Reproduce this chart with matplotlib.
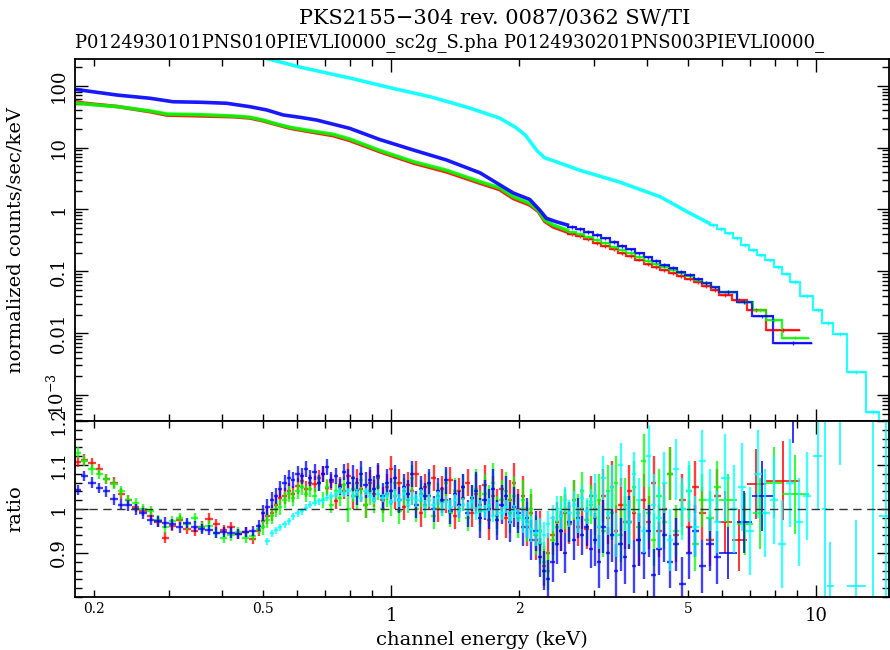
import numpy as np
import matplotlib.pyplot as plt
from matplotlib.ticker import FixedLocator, FuncFormatter, LogLocator, MultipleLocator, NullFormatter

plt.rcParams['font.family'] = ['DejaVu Serif']

# ---- top panel: counts spectra (keV, counts/s/keV) ----
red_line_e = [0.18, 0.19, 0.227, 0.271, 0.297, 0.355, 0.425, 0.466, 0.5, 0.538, 0.579, 0.645, 0.73, 0.8,
              0.94, 1.13, 1.35, 1.62, 1.8, 1.94, 2.12, 2.22, 2.3, 2.41, 2.6]
red_line_v = [56, 52, 46, 38, 33.5, 32.5, 31.5, 30, 27, 23.5, 20.5, 18, 15.6, 13,
              8.6, 5.6, 4.05, 2.65, 2.1, 1.5, 1.18, 0.93, 0.64, 0.52, 0.43]
green_line_e = red_line_e
green_line_v = [53, 50.6, 45.9, 39, 34.8, 34, 32.3, 30.8, 27.8, 24, 21.2, 18.7, 16.4, 13.7,
                9.0, 5.9, 4.3, 2.8, 2.24, 1.6, 1.25, 0.97, 0.67, 0.557, 0.46]
blue_line_e = [0.18, 0.227, 0.271, 0.307, 0.355, 0.41, 0.466, 0.51, 0.558, 0.611, 0.669, 0.8,
               0.94, 1.13, 1.35, 1.62, 1.94, 2.12, 2.24, 2.32, 2.45, 2.6]
blue_line_v = [87.6, 70.5, 62.6, 55, 54, 52, 45.7, 40.5, 33.6, 30.8, 27.8, 20.4,
               13.5, 9.1, 6.3, 3.9, 1.84, 1.45, 0.97, 0.72, 0.63, 0.56]
cyan_line_e = [0.5, 0.61, 0.8, 1.0, 1.24, 1.53, 1.8, 1.96, 2.07, 2.2, 2.3, 2.43, 2.78, 3.46, 4.3, 5.0, 5.6]
cyan_line_v = [285, 200, 133, 92, 66, 43.6, 30, 21.4, 15.9, 9.1, 6.8, 6.0, 4.3, 2.75, 1.6, 0.9, 0.6]

# binned high-energy part (bin edges and values)
step_edges = [2.6, 2.72, 2.85, 2.98, 3.12, 3.27, 3.42, 3.58, 3.75, 3.93, 4.11, 4.3, 4.5, 4.71,
              4.93, 5.16, 5.4, 5.65, 5.92]
red_edges = step_edges + [6.33, 6.87, 7.63, 9.17]
red_step_v = [0.40, 0.37, 0.33, 0.29, 0.26, 0.228, 0.2, 0.176, 0.155, 0.13, 0.118, 0.105, 0.094,
              0.084, 0.075, 0.066, 0.058, 0.05, 0.042, 0.034, 0.0236, 0.0112]
green_edges = step_edges + [6.51, 7.11, 7.63, 8.30, 9.63]
green_step_v = [0.43, 0.4, 0.36, 0.32, 0.285, 0.25, 0.22, 0.195, 0.17, 0.148, 0.132, 0.118, 0.105,
                0.094, 0.083, 0.073, 0.064, 0.055, 0.046, 0.032, 0.0236, 0.0162, 0.0085]
blue_edges = step_edges + [6.51, 7.06, 7.91, 9.80]
blue_step_v = [0.52, 0.48, 0.43, 0.39, 0.34, 0.3, 0.26, 0.225, 0.195, 0.168, 0.148, 0.128, 0.112,
               0.098, 0.087, 0.075, 0.065, 0.055, 0.046, 0.032, 0.0187, 0.0069]
cyan_edges = [5.6, 5.85, 6.1, 6.38, 6.65, 6.95, 7.25, 7.6, 7.95, 8.3, 8.7, 9.17, 9.85, 10.35,
              10.95, 11.8, 13.1, 14.1, 15.2]
cyan_step_v = [0.56, 0.48, 0.41, 0.34, 0.27, 0.22, 0.18, 0.15, 0.118, 0.092, 0.068, 0.04, 0.0236,
               0.0145, 0.0098, 0.00235, 0.00053, 0.0002]

# ---- bottom panel: data/model ratio ----
e_low = [0.183, 0.19, 0.198, 0.206, 0.214, 0.223, 0.232, 0.241, 0.251, 0.261, 0.272, 0.283, 0.294,
         0.306, 0.318, 0.331, 0.345, 0.359, 0.373, 0.388, 0.404, 0.42, 0.437, 0.455, 0.473, 0.49]
e_mid = [0.5, 0.512, 0.524, 0.536, 0.549, 0.562, 0.575, 0.589, 0.603, 0.617, 0.631, 0.646, 0.661,
         0.676, 0.692, 0.708, 0.724, 0.741, 0.759, 0.776, 0.794, 0.813, 0.832, 0.851, 0.871, 0.891,
         0.912, 0.933, 0.955, 0.977, 1.0, 1.023, 1.047, 1.072, 1.096, 1.122, 1.148, 1.175, 1.202,
         1.23, 1.259, 1.288, 1.318, 1.349, 1.38, 1.413, 1.445, 1.479, 1.514, 1.549, 1.585, 1.622,
         1.66, 1.698, 1.738, 1.778, 1.82, 1.862, 1.905, 1.95, 1.995, 2.042, 2.089, 2.138, 2.188,
         2.239, 2.291, 2.344, 2.399, 2.455, 2.512, 2.57, 2.63, 2.692, 2.754, 2.818, 2.884, 2.951]
e_high = [3.02, 3.09, 3.16, 3.24, 3.31, 3.39, 3.47, 3.55, 3.64, 3.73, 3.83, 3.93, 4.04, 4.15,
          4.27, 4.4, 4.54, 4.69, 4.85, 5.02, 5.2, 5.4, 5.62, 5.86]
e_cyan_extra = [6.12, 6.4, 6.7, 7.0, 7.3, 7.6, 7.95, 8.3, 8.7, 9.1, 9.5]

red_ratio = [1.107, 1.112, 1.105, 1.09, 1.068, 1.06, 1.035, 1.02, 1.005, 0.995, 0.985, 0.97, 0.935,
             0.962, 0.975, 0.955, 0.95, 0.96, 0.978, 0.965, 0.952, 0.958, 0.943, 0.948, 0.932, 0.95,
             0.972, 0.985, 0.99, 1.01, 1.026, 1.03, 1.04, 1.035, 1.052, 1.064, 1.045, 1.06, 1.057,
             1.07, 1.08, 1.048, 1.062, 1.018, 1.055, 1.04, 1.075, 1.03, 1.06, 1.045, 1.01, 1.058,
             1.035, 1.07, 1.02, 1.05, 1.09, 1.03, 1.06, 1.005, 1.055, 1.04, 1.08, 0.99, 1.05, 1.03,
             1.07, 1.0, 1.045, 1.02, 1.065, 0.985, 1.04, 1.025, 1.06, 0.99, 1.035, 1.01, 1.055, 0.975,
             1.03, 1.0, 1.045, 0.98, 1.02, 1.06, 1.0, 1.03, 0.96, 0.99, 0.93, 0.95, 0.87, 0.9, 0.94,
             0.97, 0.95, 0.99, 0.965, 1.02, 0.96, 1.0, 0.955, 1.03,
             1.0, 0.96, 1.03, 0.98, 1.05, 0.95, 1.01, 0.97, 1.04, 0.99, 0.93, 1.02, 0.97, 1.06, 0.95,
             1.0, 1.08, 0.94, 1.02, 0.96, 1.05, 0.99, 0.93, 1.03]
green_ratio = [1.128, 1.11, 1.09, 1.08, 1.068, 1.057, 1.04, 1.02, 1.014, 1.0, 0.995, 0.975, 0.958,
               0.973, 0.98, 0.965, 0.98, 0.958, 0.962, 0.945, 0.935, 0.94, 0.948, 0.935, 0.939, 0.955,
               0.96, 0.975, 0.985, 1.0, 1.005, 1.02, 1.035, 1.025, 1.04, 1.05, 1.035, 1.045, 1.03,
               1.06, 1.02, 1.05, 1.01, 1.04, 1.025, 1.055, 1.0, 1.045, 1.03, 1.065, 1.01, 1.04, 1.02,
               1.05, 1.0, 1.035, 1.015, 1.06, 0.995, 1.04, 1.02, 1.07, 1.0, 1.035, 1.01, 1.055, 0.985,
               1.03, 1.015, 1.06, 0.99, 1.04, 1.0, 1.05, 0.98, 1.025, 1.045, 0.995, 1.035, 1.01, 1.06,
               0.985, 1.02, 1.04, 0.99, 1.03, 0.98, 1.02, 0.97, 1.0, 0.94, 0.92, 0.88, 0.86, 0.93,
               0.96, 0.985, 1.0, 0.97, 1.02, 0.99, 1.04, 0.975, 1.01,
               0.98, 1.02, 0.95, 1.04, 0.99, 1.06, 0.94, 1.01, 0.97, 1.05, 0.96, 1.11, 0.99, 0.93,
               1.03, 0.97, 1.08, 0.95, 1.0, 1.04, 0.92, 1.02, 0.98, 1.05]
blue_ratio = [1.043, 1.075, 1.06, 1.048, 1.04, 1.022, 1.01, 1.008, 0.999, 0.99, 0.975, 0.972, 0.969,
              0.965, 0.958, 0.968, 0.96, 0.955, 0.952, 0.946, 0.948, 0.946, 0.943, 0.948, 0.95, 0.962,
              0.99, 1.005, 1.02, 1.03, 1.045, 1.06, 1.07, 1.065, 1.08, 1.075, 1.09, 1.07, 1.085, 1.06,
              1.08, 1.095, 1.065, 1.075, 1.05, 1.085, 1.06, 1.07, 1.04, 1.08, 1.055, 1.065, 1.045,
              1.075, 1.03, 1.06, 1.04, 1.07, 1.02, 1.05, 1.035, 1.08, 1.01, 1.045, 1.03, 1.06, 1.0,
              1.04, 1.02, 1.065, 0.995, 1.035, 1.01, 1.05, 0.99, 1.025, 1.04, 0.98, 1.02, 1.0, 1.045,
              0.975, 1.01, 1.03, 0.97, 1.005, 0.99, 0.96, 0.98, 0.93, 0.95, 0.89, 0.86, 0.84, 0.88,
              0.92, 0.95, 0.9, 0.97, 0.93, 0.98, 0.94, 0.96, 0.91,
              0.93, 0.88, 0.96, 0.9, 0.94, 0.86, 0.92, 0.89, 0.97, 0.87, 0.93, 0.9, 0.95, 0.85, 0.91,
              0.94, 0.88, 0.92, 0.83, 0.9, 0.95, 0.87, 0.92, 0.89]
rgb_err = [0.012] * 26 + [0.018] * 20 + [0.03] * 30 + [0.045] * 28 + [0.06] * 24

cyan_ratio = [0.927, 0.945, 0.952, 0.958, 0.965, 0.972, 0.984, 0.99, 0.995, 1.003, 1.01, 1.014,
              1.018, 1.02, 1.026, 1.03, 1.033, 1.041, 1.035, 1.04, 1.03, 1.038, 1.025, 1.04, 1.03,
              1.02, 1.035, 1.025, 1.03, 1.015, 1.03, 1.02, 1.035, 1.01, 1.025, 1.02, 1.03, 1.005,
              1.02, 1.01, 1.025, 1.0, 1.015, 1.005, 1.02, 0.995, 1.01, 1.0, 1.015, 0.99, 1.005,
              0.995, 1.01, 0.985, 1.0, 0.99, 1.005, 0.98, 0.995, 0.985, 0.975, 0.965, 0.955, 0.945,
              0.95, 0.94, 0.965, 0.98, 1.0, 0.985, 1.02, 0.99, 1.01, 0.975, 1.025, 0.995, 1.015,
              1.03, 0.96, 1.07, 0.99, 1.05, 0.94, 1.1, 1.0, 0.97, 1.08, 1.02, 0.95, 1.12, 1.01, 0.98,
              1.06, 0.93, 1.09, 1.0, 1.04, 0.96, 1.11, 1.02, 0.97, 1.07, 1.0, 1.05, 0.95, 1.08, 0.99,
              1.02, 0.92, 1.06, 0.97, 1.03]
cyan_err = [0.008] * 30 + [0.015] * 30 + [0.03] * 17 + [0.05] * 12 + [0.07] * 12 + [0.1] * 11

# sparse high-energy ratio bins: edges, values, errors
red_tail_edges = [5.92, 6.33, 6.87, 7.63, 9.17]
red_tail_r = [0.97, 0.93, 1.057, 1.064]
red_tail_err = [0.07, 0.07, 0.08, 0.09]
green_tail_edges = [5.92, 6.51, 7.11, 7.63, 8.30, 9.63]
green_tail_r = [1.02, 0.966, 0.99, 1.06, 1.033]
green_tail_err = [0.06, 0.07, 0.08, 0.08, 0.09]
blue_tail_edges = [5.92, 6.51, 7.06, 7.91, 9.80]
blue_tail_r = [0.9, 0.97, 1.03, 1.25]
blue_tail_err = [0.06, 0.07, 0.08, 0.1]
cyan_tail_edges = [9.85, 10.35, 10.6, 11.0, 11.8, 13.1, 14.1, 15.2]
cyan_tail_r = [1.12, 1.0, 0.825, 1.3, 0.825, 0.7, 0.985]
cyan_tail_err = [0.12, 0.2, 0.1, 0.2, 0.15, 0.5, 0.3]

RED, GREEN, BLUE, CYAN = '#ff0000', '#00ff00', '#0000ff', '#00ffff'


def half_widths(e):
    e = np.asarray(e, dtype=float)
    mid = np.sqrt(e[:-1] * e[1:])
    lo = np.concatenate([[e[0] ** 2 / mid[0]], mid])
    hi = np.concatenate([mid, [e[-1] ** 2 / mid[-1]]])
    return np.vstack([e - lo, hi - e])


def edge_centers(edges):
    ed = np.asarray(edges, dtype=float)
    c = np.sqrt(ed[:-1] * ed[1:])
    return c, np.vstack([c - ed[:-1], ed[1:] - c])


fig = plt.figure(figsize=(8.9, 6.5), dpi=100)
ax1 = fig.add_axes([75 / 890, 1 - 421 / 650, 814 / 890, 362 / 650])
ax2 = fig.add_axes([75 / 890, 53 / 650, 814 / 890, 176 / 650], sharex=ax1)

# top panel
for le, lv, ed, sv, c in [(red_line_e, red_line_v, red_edges, red_step_v, RED),
                          (green_line_e, green_line_v, green_edges, green_step_v, GREEN),
                          (blue_line_e, blue_line_v, blue_edges, blue_step_v, BLUE),
                          (cyan_line_e, cyan_line_v, cyan_edges, cyan_step_v, CYAN)]:
    ax1.plot(le, lv, color=c, lw=2.6, alpha=0.9)
    ax1.stairs(sv, ed, baseline=None, color=c, lw=1.6, alpha=0.85)
    cen, xe = edge_centers(ed)
    sv = np.asarray(sv)
    ax1.errorbar(cen, sv, xerr=xe, yerr=0.07 * sv, fmt='none', ecolor=c, elinewidth=1.0, alpha=0.8)

# bottom panel
e_rgb = e_low + e_mid + e_high
e_cy = e_mid[1:] + e_high + e_cyan_extra
for e, r, err, te, tr, terr, c in [
        (e_rgb, red_ratio, rgb_err, red_tail_edges, red_tail_r, red_tail_err, RED),
        (e_rgb, green_ratio, rgb_err, green_tail_edges, green_tail_r, green_tail_err, GREEN),
        (e_rgb, blue_ratio, rgb_err, blue_tail_edges, blue_tail_r, blue_tail_err, BLUE),
        (e_cy, cyan_ratio, cyan_err, cyan_tail_edges, cyan_tail_r, cyan_tail_err, CYAN)]:
    ax2.errorbar(e, r, xerr=half_widths(e), yerr=err, fmt='none', ecolor=c, elinewidth=1.7, alpha=0.75)
    cen, xe = edge_centers(te)
    ax2.errorbar(cen, tr, xerr=xe, yerr=terr, fmt='none', ecolor=c, elinewidth=1.4, alpha=0.8)
ax2.axhline(1.0, color='#333333', lw=1.0, ls=(0, (6, 4)))

# axes styling
minor_x = [0.2, 0.3, 0.4, 0.5, 0.6, 0.7, 0.8, 0.9, 2, 3, 4, 5, 6, 7, 8, 9]
labelled = {0.2: '0.2', 0.5: '0.5', 2: '2', 5: '5'}
for ax in (ax1, ax2):
    ax.set_xscale('log')
    ax.set_xlim(0.1805, 14.85)
    ax.xaxis.set_major_locator(FixedLocator([1, 10]))
    ax.xaxis.set_minor_locator(FixedLocator(minor_x))
    ax.tick_params(which='both', direction='in', top=True, right=True, width=1.0, color='black')
    ax.tick_params(which='major', length=9)
    ax.tick_params(which='minor', length=5)
    ax.tick_params(axis='y', labelrotation=90, labelsize=13, pad=5)
    ax.tick_params(axis='x', labelsize=13, pad=7)
    for s in ax.spines.values():
        s.set_linewidth(1.3)

ax1.tick_params(axis='x', which='both', labelbottom=False)
ax2.xaxis.set_major_formatter(FuncFormatter(lambda v, p: '%g' % v))
ax2.xaxis.set_minor_formatter(FuncFormatter(lambda v, p: labelled.get(round(v, 3), '')))

ax1.set_yscale('log')
ax1.set_ylim(3.8e-4, 270)
ax1.yaxis.set_major_locator(LogLocator(base=10, numticks=20))
ax1.yaxis.set_minor_locator(LogLocator(base=10, subs=np.arange(2, 10), numticks=20))
ax1.yaxis.set_minor_formatter(NullFormatter())
ylab = {2: '100', 1: '10', 0: '1', -1: '0.1', -2: '0.01', -3: r'$\mathregular{10^{-3}}$'}
ax1.yaxis.set_major_formatter(FuncFormatter(lambda v, p: ylab.get(int(round(np.log10(v))), '')))

ax2.set_ylim(0.8, 1.2)
ax2.yaxis.set_major_locator(FixedLocator([0.9, 1.0, 1.1, 1.2]))
ax2.yaxis.set_minor_locator(MultipleLocator(0.02))
ax2.yaxis.set_major_formatter(FuncFormatter(lambda v, p: '%g' % round(v, 2)))

for ax in (ax1, ax2):
    for lab in ax.get_yticklabels():
        lab.set_va('center')

ax1.set_ylabel('normalized counts/sec/keV', fontsize=14, labelpad=8)
ax2.set_ylabel('ratio', fontsize=14, labelpad=8)
ax2.set_xlabel('channel energy (keV)', fontsize=14, labelpad=4)
ax1.yaxis.set_label_coords(-0.062, 0.5)
ax2.yaxis.set_label_coords(-0.062, 0.5)

fig.text(495 / 890, 1 - 18 / 650, 'PKS2155\u2212304 rev. 0087/0362 SW/TI', ha='center', va='center', fontsize=15)
fig.text(75 / 890, 1 - 43 / 650, 'P0124930101PNS010PIEVLI0000_sc2g_S.pha P0124930201PNS003PIEVLI0000_',
         ha='left', va='center', fontsize=13)

fig.savefig('out.png', dpi=100)
